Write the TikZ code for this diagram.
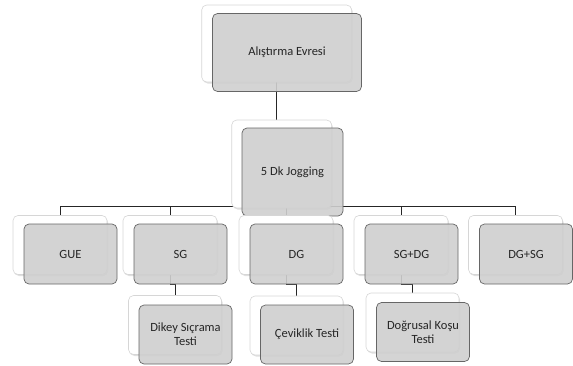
\documentclass[tikz,border=0pt]{standalone}
\usepackage{fontspec}
\setmainfont{Carlito}
\usetikzlibrary{shadows,calc}
\pgfdeclarelayer{bg}
\pgfsetlayers{bg,main}
\definecolor{backedge}{HTML}{D6D6D6}
\definecolor{frontfill}{HTML}{CFCFCF}
\definecolor{frontedge}{HTML}{666666}
\definecolor{txt}{HTML}{262626}
\tikzset{
  backbox/.style={rectangle, rounded corners=5pt, fill=white, draw=backedge, line width=0.6pt, inner sep=0pt,
    drop shadow={shadow xshift=1pt, shadow yshift=-1.5pt, opacity=0.25, fill=gray}},
  frontbox/.style={rectangle, rounded corners=5pt, fill=frontfill, fill opacity=0.9, text opacity=1, draw=frontedge, line width=0.7pt,
    inner sep=2pt, align=center, text=txt, font=\fontsize{12.5}{14}\selectfont},
  conn/.style={draw=black!85, line width=0.9pt},
}
\begin{document}
\begin{tikzpicture}[x=1pt,y=-1pt]
\useasboundingbox (0,0) rectangle (573,365);
% level 1
\node[backbox, minimum width=150, minimum height=77] (a0) at (276.7,43.5) {};
\node[frontbox, minimum width=149, minimum height=78] (a) at (287,52.5) {Alıştırma Evresi};
% level 2
\node[backbox, minimum width=100, minimum height=88] (b0) at (281.7,164) {};
\node[frontbox, minimum width=101, minimum height=88] (b) at (292.5,172) {5 Dk Jogging};
% level 3
\foreach \n/\x/\t in {c1/60/GUE, c2/170/SG, c3/286/DG, c4/401/SG+DG, c5/515.5/DG+SG}{
  \node[backbox, minimum width=94, minimum height=59] (\n w) at (\x,245) {};
  \node[frontbox, minimum width=93, minimum height=60] (\n) at (\x+10.5,254) {\t};
}
% level 4
\node[backbox, minimum width=93, minimum height=59] (d1w) at (175,325) {};
\node[frontbox, minimum width=93, minimum height=59] (d1) at (185.5,334.5) {Dikey Sıçrama\\Testi};
\node[backbox, minimum width=93, minimum height=59] (d2w) at (296.5,325.5) {};
\node[frontbox, minimum width=93, minimum height=59] (d2) at (307,334.5) {Çeviklik Testi};
\node[backbox, minimum width=93, minimum height=59] (d3w) at (412.5,322.5) {};
\node[frontbox, minimum width=93, minimum height=59] (d3) at (423,332) {Doğrusal Koşu\\Testi};
\coordinate (busy) at (0,206);
\begin{pgfonlayer}{bg}
\draw[conn] (a0.south) -- (a0.south |- b0.north);
\foreach \n in {c1,c2,c3,c4,c5}{
  \draw[conn] (b0.center) -- (b0.center |- busy) -| (\n w.north);
}
\draw[conn] (c2w.south) -- ++(0,10) -| (d1w.north);
\draw[conn] (c3w.south) -- ++(0,10) -| (d2w.north);
\draw[conn] (c4w.south) -- ++(0,10) -| (d3w.north);
\end{pgfonlayer}
\end{tikzpicture}
\end{document}
